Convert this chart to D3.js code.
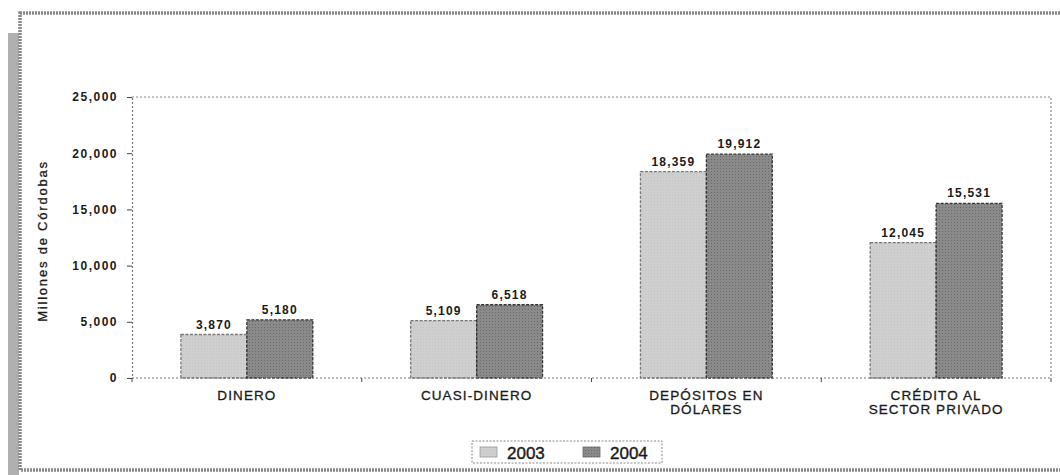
<!DOCTYPE html>
<html><head><meta charset="utf-8">
<script src="https://cdn.jsdelivr.net/npm/d3@7"></script>
<style>body{margin:0;background:#fff}svg{display:block}text{font-family:Arial,"Liberation Sans",sans-serif}</style>
</head><body><svg id="c" width="1060" height="475"></svg>
<script>
const categories = [["DINERO"],["CUASI-DINERO"],["DEPÓSITOS EN","DÓLARES"],["CRÉDITO AL","SECTOR PRIVADO"]];
const series = ["2003","2004"];
const values2003 = [3870, 5109, 18359, 12045];
const values2004 = [5180, 6518, 19912, 15531];
const labels2003 = ["3,870","5,109","18,359","12,045"];
const labels2004 = ["5,180","6,518","19,912","15,531"];
const yTicks = [0,5000,10000,15000,20000,25000];
const yTitle = "Millones de Córdobas";

const svg = d3.select("#c");
const defs = svg.append("defs");
const pat = defs.append("pattern").attr("id","dots").attr("width",3).attr("height",3).attr("patternUnits","userSpaceOnUse");
pat.append("rect").attr("width",3).attr("height",3).attr("fill","#8a8a8a");
pat.append("rect").attr("width",1).attr("height",1).attr("fill","#6a6a6a");
const pat2 = defs.append("pattern").attr("id","ldots").attr("width",3).attr("height",3).attr("patternUnits","userSpaceOnUse");
pat2.append("rect").attr("width",3).attr("height",3).attr("fill","#cfcfcf");
pat2.append("rect").attr("width",1).attr("height",1).attr("fill","#c4c4c4");

// outer frame + shadow
svg.append("rect").attr("x",8).attr("y",33).attr("width",11).attr("height",450).attr("fill","#b0b0b0");
svg.append("rect").attr("x",20).attr("y",13).attr("width",1060).attr("height",457)
  .attr("fill","#fff").attr("stroke","#888").attr("stroke-width",3.5).attr("stroke-dasharray","2,1");

const L=132,R=1051,T=97,B=378;
const x0 = d3.scaleBand().domain(d3.range(categories.length)).range([L,R]);
const bw = x0.bandwidth()*0.287;
const y = d3.scaleLinear().domain([0,25000]).range([B,T]);

// plot border (top, right)
svg.append("path").attr("d",`M${L},${T}H${R}V${B}`).attr("fill","none")
  .attr("stroke","#888").attr("stroke-width",1.2).attr("stroke-dasharray","2,2");

const data = [values2003, values2004];
const labs = [labels2003, labels2004];
const fills = ["url(#ldots)","url(#dots)"];
const strokes = ["#777","#333"];
const txt = "#1a1a1a";
data.forEach((vals,si)=>{
  const g = svg.append("g");
  g.selectAll("rect").data(vals).enter().append("rect")
    .attr("x",(d,i)=>x0(i)+x0.bandwidth()/2 + (si-1)*bw)
    .attr("y",d=>y(d)).attr("width",bw).attr("height",d=>B-y(d))
    .attr("fill",fills[si]).attr("stroke",strokes[si]).attr("stroke-width",1.3).attr("stroke-dasharray","3,1.5");
  g.selectAll("text").data(vals).enter().append("text")
    .attr("x",(d,i)=>x0(i)+x0.bandwidth()/2 + (si-0.5)*bw)
    .attr("y",d=>y(d)-6).attr("text-anchor","middle")
    .attr("font-size",12).attr("font-weight","bold").attr("letter-spacing",1.2).attr("fill",txt)
    .text((d,i)=>labs[si][i]);
});

// y axis
const ya = svg.append("g").attr("transform",`translate(${L},0)`)
  .call(d3.axisLeft(y).tickValues(yTicks).tickFormat(d3.format(",")).tickSize(5).tickPadding(9));
ya.select(".domain").attr("stroke","#777").attr("stroke-dasharray","2,2").attr("stroke-width",1.2);
ya.selectAll(".tick line").attr("stroke","#444");
ya.selectAll("text").attr("font-size",12).attr("font-weight","bold").attr("letter-spacing",1.5).attr("fill",txt).attr("font-family","Arial");

// x axis
const xa = svg.append("g").attr("transform",`translate(0,${B})`);
xa.append("path").attr("d",`M${L},0H${R}`).attr("stroke","#777").attr("stroke-dasharray","2,2").attr("stroke-width",1.2);
xa.selectAll("line").data(d3.range(categories.length+1)).enter().append("line")
  .attr("x1",i=>i<categories.length?x0(i):R).attr("x2",i=>i<categories.length?x0(i):R)
  .attr("y1",0).attr("y2",4).attr("stroke","#444");
const ct = xa.selectAll("text").data(categories).enter().append("text")
  .attr("text-anchor","middle").attr("font-size",13.5).attr("letter-spacing",1.1).attr("fill",txt)
  .attr("stroke",txt).attr("stroke-width",0.3)
  .attr("transform",(d,i)=>`translate(${x0(i)+x0.bandwidth()/2},22)`);
ct.selectAll("tspan").data(d=>d).enter().append("tspan").attr("x",0).attr("dy",(d,j)=>j?14:0).text(d=>d);

svg.append("text").attr("transform","translate(47,241) rotate(-90)").attr("text-anchor","middle")
  .attr("font-size",13).attr("letter-spacing",1.8).attr("fill",txt).attr("stroke",txt).attr("stroke-width",0.3).text(yTitle);

// legend
const lg = svg.append("g");
lg.append("rect").attr("x",472).attr("y",441).attr("width",190).attr("height",22).attr("fill","#fff")
  .attr("stroke","#888").attr("stroke-dasharray","2,1.5");
const lx = [480,583];
series.forEach((s,i)=>{
  lg.append("rect").attr("x",lx[i]).attr("y",447).attr("width",17).attr("height",10)
    .attr("fill",fills[i]).attr("stroke",i?"#666":"#999").attr("stroke-width",0.8);
  lg.append("text").attr("x",lx[i]+27).attr("y",459).attr("font-size",17).attr("fill",txt)
    .attr("stroke",txt).attr("stroke-width",0.4).text(s);
});
</script></body></html>
